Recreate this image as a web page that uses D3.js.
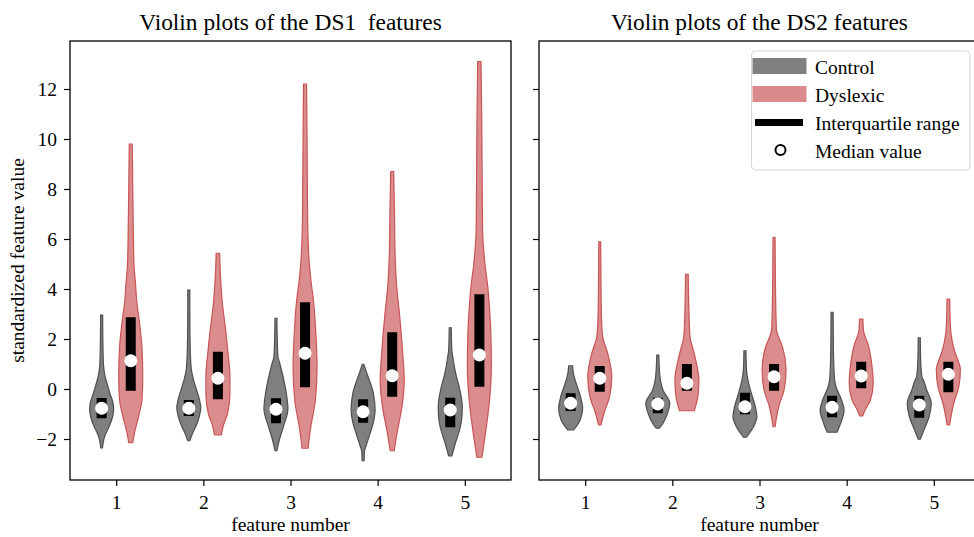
<!DOCTYPE html>
<html>
<head>
<meta charset="utf-8">
<script src="https://cdn.jsdelivr.net/npm/d3@7"></script>
<style>
  body { margin: 0; background: #fff; }
  svg { display: block; font-family: "Liberation Serif", "DejaVu Serif", serif; }
  .tick text { font-size: 19.5px; fill: #000; font-family: "Liberation Serif", "DejaVu Serif", serif; }
</style>
</head>
<body>
<svg id="chart" width="974" height="537"></svg>
<script>
// data
const features = [1, 2, 3, 4, 5]
const yTicks = [-2, 0, 2, 4, 6, 8, 10, 12]
const groups = ['Control', 'Dyslexic']

// [q1, median, q3] per feature
const ds1ControlStats = [[-1.17, -0.77, -0.36], [-1.08, -0.77, -0.44], [-1.37, -0.81, -0.37], [-1.35, -0.91, -0.41], [-1.53, -0.84, -0.35]]
const ds1DyslexicStats = [[-0.07, 1.13, 2.87], [-0.41, 0.43, 1.49], [0.07, 1.43, 3.47], [-0.31, 0.53, 2.27], [0.09, 1.36, 3.79]]
const ds2ControlStats = [[-0.88, -0.57, -0.17], [-0.97, -0.6, -0.35], [-1.01, -0.71, -0.15], [-1.13, -0.73, -0.27], [-1.15, -0.64, -0.27]]
const ds2DyslexicStats = [[-0.11, 0.43, 0.92], [-0.07, 0.23, 1.0], [-0.07, 0.49, 1.0], [0.03, 0.52, 1.09], [-0.13, 0.59, 1.09]]

// kde profiles: [value, density] from max down to min
const ds1ControlKde = [
  [[2.96, 1], [2.0, 1.2], [1.0, 1.8], [0.6, 3], [0.2, 5.5], [-0.2, 8.5], [-0.5, 11], [-0.8, 12], [-1.1, 11], [-1.5, 7.5], [-1.9, 3], [-2.36, 0.8]],
  [[3.96, 1], [2.5, 1.1], [1.5, 1.5], [0.8, 2.5], [0.4, 4.5], [0, 7.5], [-0.4, 10.5], [-0.75, 12], [-1.1, 10.5], [-1.45, 7.5], [-1.75, 4], [-2.07, 1]],
  [[2.83, 1], [2.0, 1.3], [1.3, 2], [1.0, 4], [0.6, 6.5], [-0.2, 10.5], [-0.8, 12], [-1.5, 7.5], [-2.05, 3.3], [-2.47, 1]],
  [[0.99, 0.8], [0.6, 4], [0.35, 6.3], [-0.17, 10.3], [-0.85, 12], [-1.3, 10.5], [-1.77, 7], [-2.3, 2.8], [-2.5, 1.3], [-2.87, 1]],
  [[2.45, 1], [1.6, 1.5], [1.15, 3], [0.63, 5.3], [0, 9.3], [-0.7, 11.8], [-1.1, 11.5], [-1.5, 10], [-2.17, 5], [-2.68, 1.5]]
]
const ds1DyslexicKde = [
  [[9.8, 1.5], [8, 2], [6.5, 2.5], [5, 3.2], [4.2, 4.8], [3.5, 6], [2.8, 8.3], [1.6, 11.3], [0.5, 12], [-0.4, 11.3], [-1.1, 7.8], [-1.75, 3.8], [-2.15, 2]],
  [[5.43, 1.7], [4.5, 2.5], [3.5, 4.2], [2.2, 8], [1.5, 9.7], [0.5, 11.7], [-0.2, 11.7], [-1, 9.2], [-1.5, 5], [-1.84, 3.3]],
  [[12.2, 1.5], [10, 2], [7, 2.5], [5.5, 3.5], [5.0, 4.3], [4.3, 6], [3.5, 8.5], [2.2, 10.8], [0.9, 12], [-0.45, 10.3], [-1.5, 5.8], [-2.37, 3]],
  [[8.7, 1.5], [7, 2.3], [5.5, 2.8], [4.2, 4.3], [2.9, 7.5], [1.55, 10.3], [0.35, 12], [-0.7, 9.8], [-1.77, 4.8], [-2.47, 2]],
  [[13.1, 1.6], [11, 2.3], [8, 2.8], [6.3, 3.2], [5.0, 5.5], [4.0, 8.5], [3.5, 9.5], [2.2, 11.3], [0.9, 11.8], [-0.45, 10], [-1.77, 6], [-2.73, 2.5]]
]
const ds2ControlKde = [
  [[0.93, 2], [0.63, 2.8], [0.36, 4.5], [-0.3, 10], [-0.77, 12.2], [-1.24, 9.7], [-1.64, 3]],
  [[1.36, 1], [0.8, 1.5], [0.36, 2.5], [-0.05, 5], [-0.57, 11.5], [-0.97, 9.3], [-1.37, 5], [-1.57, 1.5]],
  [[1.53, 1], [0.8, 1.5], [0.36, 3], [-0.05, 5.5], [-0.7, 10.3], [-1.1, 12], [-1.5, 8.7], [-1.93, 1.5]],
  [[3.07, 1], [1.5, 1.3], [0.8, 1.8], [0.36, 2.5], [0.09, 3.8], [-0.44, 9.2], [-0.85, 11.7], [-1.37, 8.3], [-1.73, 4.8]],
  [[2.05, 1], [1.2, 1.3], [0.5, 2.5], [0.3, 4.5], [-0.05, 7.2], [-0.57, 11.5], [-1.1, 9.5], [-1.64, 4.5], [-2.01, 1]]
]
const ds2DyslexicKde = [
  [[5.89, 1], [4, 1.3], [2.8, 1.8], [2.1, 3], [1.4, 8.3], [0.5, 12.2], [-0.3, 10], [-0.97, 4.3], [-1.44, 1.2]],
  [[4.59, 1.3], [3.4, 1.8], [2.1, 3], [1.6, 6], [1.15, 8.7], [0.35, 11.8], [-0.3, 10.8], [-0.87, 7.2]],
  [[6.07, 1], [4.5, 1.3], [2.4, 2.3], [2.1, 4.3], [1.7, 8.3], [0.76, 12], [-0.04, 10], [-0.7, 4.7], [-1.51, 1]],
  [[2.8, 1.7], [2.35, 2.3], [1.7, 7.5], [0.9, 11], [0.23, 12.2], [-0.44, 9.3], [-0.84, 4], [-1.08, 1.5]],
  [[3.6, 1.3], [2.5, 2], [2.1, 3], [1.56, 5.8], [0.76, 11.8], [0.1, 10.3], [-0.57, 5.3], [-1.44, 1.2]]
]

// layout
const plotTop = 41
const plotBottom = 480
const offset = 0.167
const halfWidth = 12
const colors = {
  Control: { fill: '#7f7f7f', stroke: '#4f4f4f' },
  Dyslexic: { fill: '#db8c8c', stroke: '#c95454' }
}

const svg = d3.select('#chart')

const y = d3.scaleLinear().domain([-3.64, 13.92]).range([plotBottom, plotTop])
const fmt = d => d < 0 ? '\u2212' + Math.abs(d) : String(d)

const panels = [
  { left: 70, right: 511, title: 'Violin plots of the DS1  features', showY: true,
    sets: [[ds1ControlKde, ds1ControlStats, 'Control'], [ds1DyslexicKde, ds1DyslexicStats, 'Dyslexic']] },
  { left: 539, right: 980, title: 'Violin plots of the DS2 features', showY: false,
    sets: [[ds2ControlKde, ds2ControlStats, 'Control'], [ds2DyslexicKde, ds2DyslexicStats, 'Dyslexic']] }
]

panels.forEach(p => {
  const x = d3.scaleLinear().domain([0.47, 5.53]).range([p.left, p.right])
  const g = svg.append('g')

  p.sets.forEach(([kdes, stats, group], si) => {
    const sign = si === 0 ? -1 : 1
    features.forEach((f, i) => {
      const cx = x(f + sign * offset)
      const prof = kdes[i]
      const w = d3.scaleLinear().domain([0, d3.max(prof, d => d[1])]).range([0, halfWidth])
      const area = d3.area()
        .curve(d3.curveMonotoneY)
        .y(d => y(d[0]))
        .x0(d => cx - w(d[1]))
        .x1(d => cx + w(d[1]))
      g.append('path')
        .attr('d', area(prof))
        .attr('fill', colors[group].fill)
        .attr('stroke', colors[group].stroke)
        .attr('stroke-width', 1.2)
      const [q1, med, q3] = stats[i]
      g.append('rect')
        .attr('x', cx - 5)
        .attr('width', 10)
        .attr('y', y(q3))
        .attr('height', y(q1) - y(q3))
        .attr('fill', '#000')
      g.append('circle')
        .attr('cx', cx)
        .attr('cy', y(med))
        .attr('r', 6.5)
        .attr('fill', '#fff')
    })
  })

  // frame
  svg.append('rect')
    .attr('x', p.left).attr('y', plotTop)
    .attr('width', p.right - p.left).attr('height', plotBottom - plotTop)
    .attr('fill', 'none').attr('stroke', '#000').attr('stroke-width', 1.3)

  const xAxis = svg.append('g')
    .attr('transform', `translate(0,${plotBottom})`)
    .call(d3.axisBottom(x).tickValues(features).tickSize(6).tickFormat(d3.format('d')))
  xAxis.attr('font-family', null).attr('font-size', null)
  xAxis.select('.domain').remove()
  xAxis.selectAll('.tick line').attr('stroke-width', 1.2)
  xAxis.selectAll('.tick text').attr('y', 29).attr('dy', 0)

  const yAxis = svg.append('g')
    .attr('transform', `translate(${p.left},0)`)
    .call(d3.axisLeft(y).tickValues(yTicks).tickSize(6).tickPadding(7).tickFormat(p.showY ? fmt : ''))
  yAxis.attr('font-family', null).attr('font-size', null)
  yAxis.select('.domain').remove()
  yAxis.selectAll('.tick line').attr('stroke-width', 1.2)
  yAxis.selectAll('.tick text').attr('dy', '0.34em')

  svg.append('text')
    .attr('x', (p.left + p.right) / 2)
    .attr('y', 29.5)
    .attr('text-anchor', 'middle')
    .style('white-space', 'pre')
    .style('font-size', '23.4px')
    .text(p.title)

  svg.append('text')
    .attr('x', (p.left + p.right) / 2)
    .attr('y', 531)
    .attr('text-anchor', 'middle')
    .style('font-size', '19.5px')
    .text('feature number')
})

svg.append('text')
  .attr('transform', `translate(24,${(plotTop + plotBottom) / 2}) rotate(-90)`)
  .attr('text-anchor', 'middle')
  .style('font-size', '19.5px')
  .text('standardized feature value')

// legend
const legend = svg.append('g')
legend.append('rect')
  .attr('x', 751.5).attr('y', 51)
  .attr('width', 218.5).attr('height', 119)
  .attr('rx', 4)
  .attr('fill', '#fff').attr('fill-opacity', 0.8)
  .attr('stroke', '#d6d6d6').attr('stroke-width', 1)

const legendItems = [...groups, 'Interquartile range', 'Median value']
legendItems.forEach((name, i) => {
  const cy = 66 + i * 28
  if (i < 2) {
    legend.append('rect')
      .attr('x', 752.5).attr('y', cy - 8)
      .attr('width', 54).attr('height', 16)
      .attr('fill', i === 0 ? '#808080' : '#d98a8a')
  } else if (i === 2) {
    legend.append('line')
      .attr('x1', 755).attr('x2', 803)
      .attr('y1', cy + 0.5).attr('y2', cy + 0.5)
      .attr('stroke', '#000').attr('stroke-width', 7)
  } else {
    legend.append('circle')
      .attr('cx', 780.5).attr('cy', cy)
      .attr('r', 5)
      .attr('fill', '#fff').attr('stroke', '#000').attr('stroke-width', 2)
  }
  legend.append('text')
    .attr('x', 815)
    .attr('y', cy + 7.5)
    .style('font-size', '19.5px')
    .text(name)
})
</script>
</body>
</html>
